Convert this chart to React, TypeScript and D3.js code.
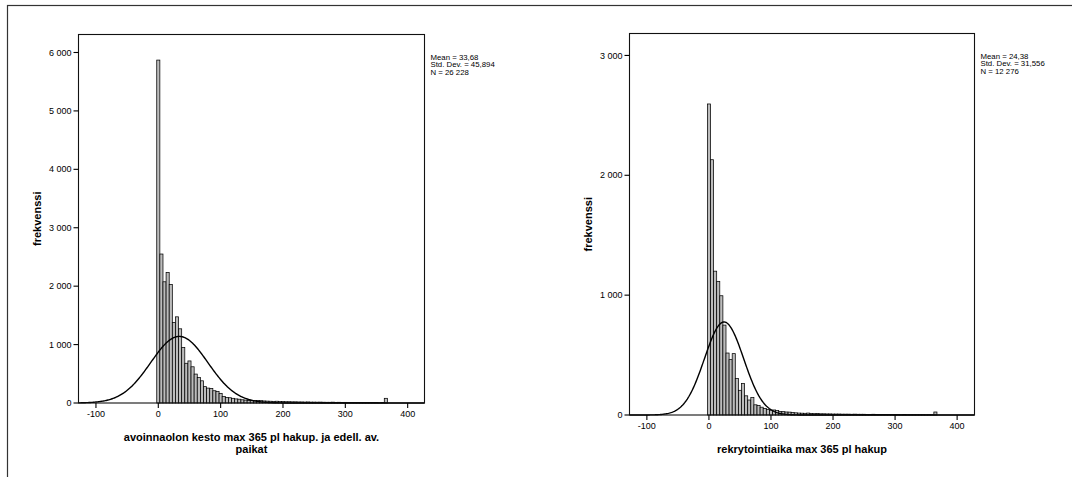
import React from "react";
import * as d3 from "d3";

// ---------- data ----------
const binWidth = 5;
const xTicks = [-100, 0, 100, 200, 300, 400];

// left histogram: bin centres 0,5,10,...,365
const leftCounts = [
  5870, 2550, 2075, 2235, 2030, 1380, 1475, 1270, 950, 680,
  720, 620, 495, 435, 380, 280, 255, 250, 210, 195,
  165, 110, 95, 90, 80, 70, 65, 55, 50, 45,
  45, 45, 42, 40, 35, 32, 30, 28, 30, 25,
  25, 22, 22, 20, 20, 18, 18, 16, 18, 15,
  15, 14, 15, 13, 12, 12, 14, 11, 12, 10,
  11, 9, 10, 9, 8, 9, 8, 7, 8, 7,
  7, 6, 8, 80,
];
const leftStats = { mean: 33.68, sd: 45.894, n: 26228 };
const leftStatLabels = ["Mean = 33,68", "Std. Dev. = 45,894", "N = 26 228"];
const leftYTicks = [0, 1000, 2000, 3000, 4000, 5000, 6000];
const leftXLabel = ["avoinnaolon kesto max 365 pl hakup. ja edell. av.", "paikat"];

// right histogram
const rightCounts = [
  2595, 2130, 1200, 1115, 995, 750, 517, 462, 512, 305,
  206, 262, 160, 125, 145, 85, 80, 65, 55, 47,
  40, 42, 38, 30, 28, 25, 24, 20, 18, 16,
  15, 14, 16, 12, 11, 12, 10, 10, 9, 9,
  8, 8, 8, 7, 7, 7, 6, 7, 6, 6,
  6, 5, 5, 6, 5, 5, 4, 5, 4, 4,
  4, 4, 3, 4, 3, 3, 3, 3, 3, 3,
  2, 3, 2, 25,
];
const rightStats = { mean: 24.38, sd: 31.556, n: 12276 };
const rightStatLabels = ["Mean = 24,38", "Std. Dev. = 31,556", "N = 12 276"];
const rightYTicks = [0, 1000, 2000, 3000];
const rightXLabel = ["rekrytointiaika max 365 pl hakup"];

const yLabel = "frekvenssi";

const fmt = (v: number) => {
  const s = String(v);
  return s.length > 3 ? s.slice(0, s.length - 3) + " " + s.slice(-3) : s;
};

type PanelProps = {
  counts: number[];
  stats: { mean: number; sd: number; n: number };
  statLabels: string[];
  yTicks: number[];
  xLabel: string[];
  x0: number;
  x1: number;
  yTop: number;
  yBot: number;
  xDomain: [number, number];
  yMax: number;
};

function Panel(p: PanelProps) {
  const x = d3.scaleLinear().domain(p.xDomain).range([p.x0, p.x1]);
  const y = d3.scaleLinear().domain([0, p.yMax]).range([p.yBot, p.yTop]);
  const font = "'Liberation Sans', Arial, sans-serif";
  const { mean, sd, n } = p.stats;
  const curvePts: [number, number][] = [];
  const steps = 400;
  for (let i = 0; i <= steps; i++) {
    const xv = p.xDomain[0] + ((p.xDomain[1] - p.xDomain[0]) * i) / steps;
    const z = (xv - mean) / sd;
    const yv = (n * binWidth) / (sd * Math.sqrt(2 * Math.PI)) * Math.exp(-0.5 * z * z);
    curvePts.push([x(xv), y(yv)]);
  }
  const line = d3.line();
  return (
    <g>
      {p.counts.map((c, i) => {
        const cx = i * binWidth;
        const xa = x(cx - binWidth / 2);
        const xb = x(cx + binWidth / 2);
        return (
          <rect
            key={i}
            x={xa}
            y={y(c)}
            width={xb - xa}
            height={p.yBot - y(c)}
            fill="#bcbcbc"
            stroke="#000"
            strokeWidth={0.75}
          />
        );
      })}
      <path d={line(curvePts) || ""} fill="none" stroke="#000" strokeWidth={1.4} />
      <rect
        x={p.x0}
        y={p.yTop}
        width={p.x1 - p.x0}
        height={p.yBot - p.yTop}
        fill="none"
        stroke="#111"
        strokeWidth={1.1}
      />
      {p.yTicks.map((t) => (
        <g key={t}>
          <line x1={p.x0 - 5} x2={p.x0} y1={y(t)} y2={y(t)} stroke="#000" strokeWidth={1.1} />
          <text
            x={p.x0 - 7}
            y={y(t)}
            dy="0.35em"
            textAnchor="end"
            fontFamily={font}
            fontSize={9}
            fill="#000"
          >
            {fmt(t)}
          </text>
        </g>
      ))}
      {xTicks.map((t) => (
        <g key={t}>
          <line x1={x(t)} x2={x(t)} y1={p.yBot} y2={p.yBot + 5} stroke="#000" strokeWidth={1.1} />
          <text
            x={x(t)}
            y={p.yBot + 14}
            textAnchor="middle"
            fontFamily={font}
            fontSize={9}
            fill="#000"
          >
            {t}
          </text>
        </g>
      ))}
      {p.xLabel.map((s, i) => (
        <text
          key={i}
          x={(p.x0 + p.x1) / 2}
          y={p.yBot + 38 + i * 12}
          textAnchor="middle"
          fontFamily={font}
          fontSize={11}
          fontWeight="bold"
          fill="#000"
        >
          {s}
        </text>
      ))}
      <text
        transform={`translate(${p.x0 - 38},${(p.yTop + p.yBot) / 2}) rotate(-90)`}
        textAnchor="middle"
        fontFamily={font}
        fontSize={11}
        fontWeight="bold"
        fill="#000"
      >
        {yLabel}
      </text>
      {p.statLabels.map((s, i) => (
        <text
          key={i}
          x={p.x1 + 6}
          y={p.yTop + 25 + i * 7.6}
          fontFamily={font}
          fontSize={7.8}
          fill="#000"
        >
          {s}
        </text>
      ))}
    </g>
  );
}

export default function App() {
  return (
    <svg
      width={1072}
      height={477}
      style={{ position: "fixed", left: 0, top: 0, background: "#fff" }}
    >
      <rect x={0} y={0} width={1072} height={477} fill="#fff" />
      <rect x={7.5} y={5.5} width={1100} height={500} fill="none" stroke="#333" strokeWidth={1.2} />
      <Panel
        counts={leftCounts}
        stats={leftStats}
        statLabels={leftStatLabels}
        yTicks={leftYTicks}
        xLabel={leftXLabel}
        x0={78.5}
        x1={424.5}
        yTop={34.5}
        yBot={403}
        xDomain={[-128, 427]}
        yMax={6308}
      />
      <Panel
        counts={rightCounts}
        stats={rightStats}
        statLabels={rightStatLabels}
        yTicks={rightYTicks}
        xLabel={rightXLabel}
        x0={629.5}
        x1={974.5}
        yTop={33.5}
        yBot={415}
        xDomain={[-128, 428]}
        yMax={3183}
      />
    </svg>
  );
}
